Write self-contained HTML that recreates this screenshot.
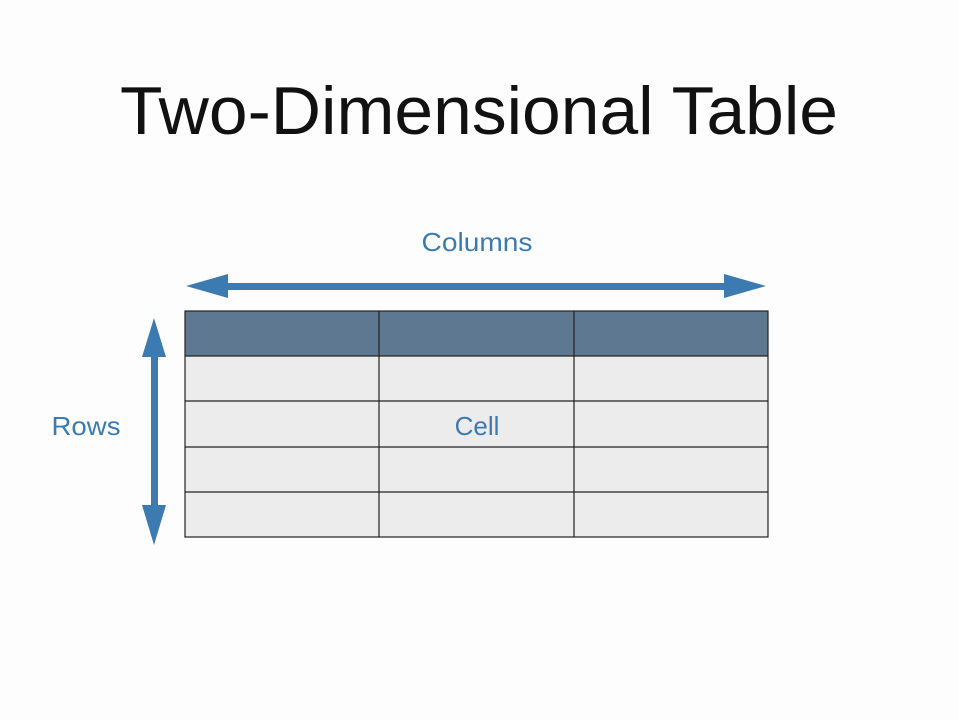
<!DOCTYPE html>
<html><head><meta charset="utf-8"><style>
html,body{margin:0;padding:0;background:#fdfdfd;}
svg{display:block;}
</style></head><body>
<svg width="959" height="720" viewBox="0 0 959 720" xmlns="http://www.w3.org/2000/svg">
<rect width="959" height="720" fill="#fdfdfd"/>
<text x="479" y="134" text-anchor="middle" font-family="Liberation Sans, sans-serif" font-size="68" fill="#111" textLength="718" lengthAdjust="spacingAndGlyphs">Two-Dimensional Table</text>
<text x="477" y="251" text-anchor="middle" font-family="Liberation Sans, sans-serif" font-size="26" fill="#3c7ab0" textLength="111" lengthAdjust="spacingAndGlyphs">Columns</text>
<text x="86" y="435" text-anchor="middle" font-family="Liberation Sans, sans-serif" font-size="26" fill="#3c7ab0" textLength="69" lengthAdjust="spacingAndGlyphs">Rows</text>
<polygon points="186,286 228,274 228,283 724,283 724,274 766,286 724,298 724,290 228,290 228,298" fill="#3b7bb2"/>
<polygon points="154,318 166,357 158,357 158,505 166,505 154,545 142,505 151,505 151,357 142,357" fill="#3b7bb2"/>
<rect x="185" y="311" width="583" height="45" fill="#5f7891"/>
<rect x="185" y="356" width="583" height="181" fill="#ececec"/>
<g stroke="#222" stroke-width="1.2" fill="none">
<rect x="185" y="311" width="583" height="226"/>
<line x1="379" y1="311" x2="379" y2="537"/>
<line x1="574" y1="311" x2="574" y2="537"/>
<line x1="185" y1="356" x2="768" y2="356"/>
<line x1="185" y1="401" x2="768" y2="401"/>
<line x1="185" y1="447" x2="768" y2="447"/>
<line x1="185" y1="492" x2="768" y2="492"/>
</g>
<text x="477" y="435" text-anchor="middle" font-family="Liberation Sans, sans-serif" font-size="26" fill="#3c7ab0">Cell</text>
</svg>
</body></html>
